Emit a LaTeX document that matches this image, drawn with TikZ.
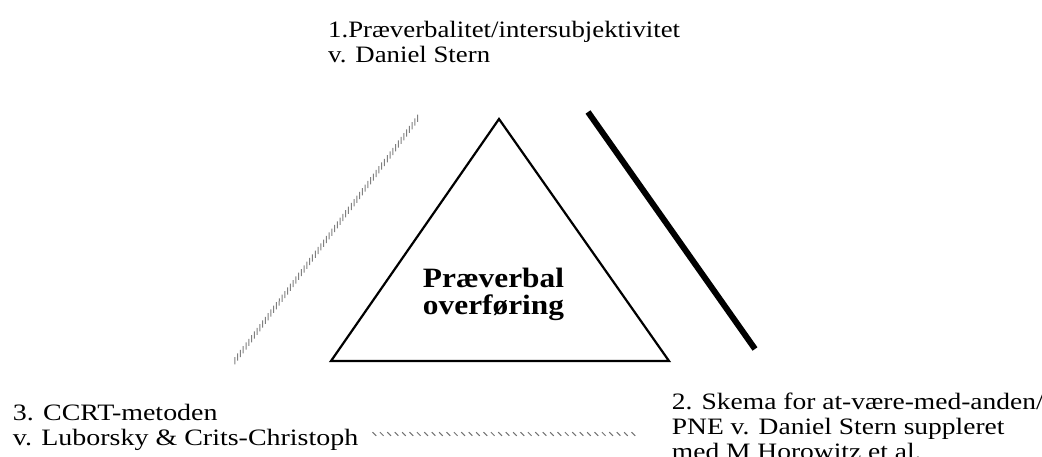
\documentclass[tikz,border=0pt]{standalone}
\usepackage{fontspec}
\setmainfont{Liberation Serif}
\usetikzlibrary{decorations.markings}
% a block of left-aligned lines, widened a little; its baseline is the first line
\newcommand{\widelines}[2]{\scalebox{#1}[1]{\begin{tabular}[t]{@{}l@{}}#2\end{tabular}}}
\newcommand{\widecentre}[2]{\scalebox{#1}[1]{\begin{tabular}[t]{@{}c@{}}#2\end{tabular}}}
\begin{document}
\begin{tikzpicture}[x=1pt,y=-1pt,
  label text/.style={inner sep=0pt, anchor=base west,
    font=\fontsize{23.5}{25}\selectfont},
  centre text/.style={inner sep=0pt, anchor=base,
    font=\fontsize{28}{25}\selectfont\bfseries},
  tri/.style={draw, line width=2.2pt, line join=miter},
  solid link/.style={line width=6pt},
  tick diag/.style={decorate, decoration={markings,
    mark=between positions 0.005 and 0.995 step 4.6pt with
      {\draw[black!50, line width=1pt] (217:3.6pt) -- (37:3.6pt);}}},
  tick flat/.style={decorate, decoration={markings,
    mark=between positions 0.005 and 0.995 step 7.4pt with
      {\draw[black!55, line width=1pt] (135:2.6pt) -- (-45:2.6pt);}}}
]
\useasboundingbox (0,0) rectangle (1042,457);
\clip (0,0) rectangle (1042,457);

% corners of the central triangle
\coordinate (apex) at (499,119);
\coordinate (bl) at (331,361);
\coordinate (br) at (669,361);
\draw[tri] (apex) -- (bl) -- (br) -- cycle;

\node[centre text] (centre) at (493.5,287.7)
  {\widecentre{1.12}{Præverbal\\overføring}};

% the three sides
\coordinate (l1) at (234,362);
\coordinate (l2) at (421,114);
\path[tick diag] (l1) -- (l2);

\coordinate (r1) at (588,112);
\coordinate (r2) at (755,349);
\draw[solid link] (r1) -- (r2);

\coordinate (b1) at (373,434);
\coordinate (b2) at (641,434);
\path[tick flat] (b1) -- (b2);

% labels
\node[label text] (one) at (328,37.5)
  {\widelines{1.14}{1.Præverbalitet/intersubjektivitet\\v. Daniel Stern}};
\node[label text] (three) at (12.7,420.7)
  {\widelines{1.19}{3. CCRT-metoden\\v. Luborsky \& Crits-Christoph}};
\node[label text] (two) at (671.7,409)
  {\widelines{1.17}{2. Skema for at-være-med-anden/\\PNE v. Daniel Stern suppleret\\med M Horowitz et al.}};
\end{tikzpicture}
\end{document}
